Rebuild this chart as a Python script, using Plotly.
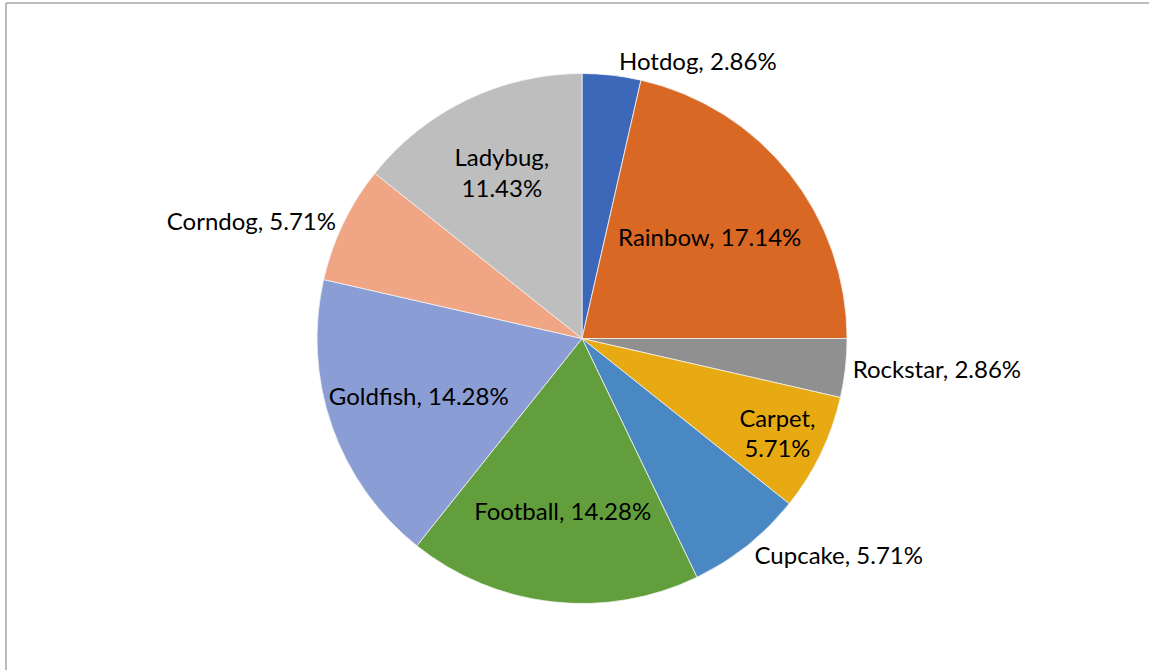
import plotly.graph_objects as go

categories = ["Hotdog", "Rainbow", "Rockstar", "Carpet", "Cupcake",
              "Football", "Goldfish", "Corndog", "Ladybug"]
counts = [1, 6, 1, 2, 2, 5, 5, 2, 4]
percent_labels = ["2.86%", "17.14%", "2.86%", "5.71%", "5.71%",
                  "14.28%", "14.28%", "5.71%", "11.43%"]
colors = ["#3D68B9", "#D86824", "#909090", "#E8AA12", "#4A88C3",
          "#629F3C", "#8A9DD4", "#F0A584", "#BEBEBE"]
positions = ["outside", "inside", "outside", "inside", "outside",
             "inside", "inside", "outside", "inside"]
two_line = {"Ladybug", "Carpet"}

texts = [f"{c},<br>{p}" if c in two_line else f"{c}, {p}"
         for c, p in zip(categories, percent_labels)]

fig = go.Figure(go.Pie(
    labels=categories,
    values=counts,
    text=texts,
    textinfo="text",
    textposition=positions,
    insidetextorientation="horizontal",
    sort=False,
    direction="clockwise",
    rotation=0,
    marker=dict(colors=colors, line=dict(color="#F2F2F2", width=0.8)),
    textfont=dict(family="Lato", size=24, color="#000000"),
    showlegend=False,
    hoverinfo="label+value",
    domain=dict(x=[0.2759, 0.7372], y=[0.0985, 0.891]),
))

fig.update_layout(
    width=1149, height=670,
    margin=dict(l=0, r=0, t=0, b=0),
    paper_bgcolor="white",
    plot_bgcolor="white",
    shapes=[
        dict(type="line", xref="paper", yref="paper", x0=0.0052, x1=0.0052, y0=0, y1=0.9955,
             line=dict(color="#A6A6A6", width=1.5)),
        dict(type="line", xref="paper", yref="paper", x0=0.0052, x1=1.0, y0=0.9955, y1=0.9955,
             line=dict(color="#A6A6A6", width=1.5)),
    ],
)

fig.write_html("out.html",
               config={"displayModeBar": False},
               post_script="document.body.style.margin='0px';document.body.style.overflow='hidden';")
